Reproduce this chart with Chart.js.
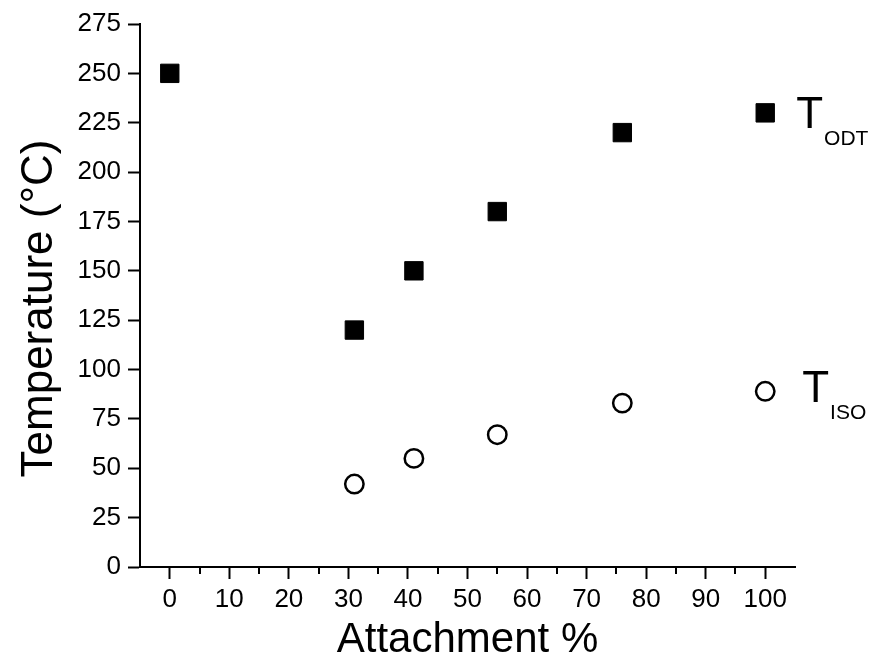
<!DOCTYPE html>
<html>
<head>
<meta charset="utf-8">
<script src="https://cdn.jsdelivr.net/npm/chart.js@4"></script>
<style>
  html, body { margin: 0; padding: 0; background: #fff; }
  #wrap { width: 875px; height: 661px; }
</style>
</head>
<body>
<div id="wrap"><canvas id="chartTemp"></canvas></div>
<script>
// data
const attachODT = [0, 31, 41, 55, 76, 100]
const tempODT = [250, 120, 150, 180, 220, 230]
const attachISO = [31, 41, 55, 76, 100]
const tempISO = [42, 55, 67, 83, 89]

const seriesNames = ['T', 'T']
const seriesSubs = ['ODT', 'ISO']

const xTicks = [0, 10, 20, 30, 40, 50, 60, 70, 80, 90, 100]
const xMinorTicks = [5, 15, 25, 35, 45, 55, 65, 75, 85, 95]
const yTicks = [0, 25, 50, 75, 100, 125, 150, 175, 200, 225, 250, 275]
const yTitle = 'Temperature (°C)'

const FONT = 'Arial, "Liberation Sans", sans-serif'

function toPoints(xs, ys) {
  const pts = []
  for (var i = 0; i < xs.length; i++) {
    pts.push({x: xs[i], y: ys[i]})
  }
  return pts
}

// short ticks between the labelled ones on the x axis
const minorTicks = {
  id: 'minorTicks',
  afterDraw(chart) {
    const ctx = chart.ctx
    const xs = chart.scales.x
    ctx.save()
    ctx.strokeStyle = '#000'
    ctx.lineWidth = 2
    xMinorTicks.forEach(v => {
      const px = Math.round(xs.getPixelForValue(v))
      ctx.beginPath()
      ctx.moveTo(px, xs.top)
      ctx.lineTo(px, xs.top + 7)
      ctx.stroke()
    })
    ctx.restore()
  }
}

// y title drawn by hand, it sits a bit below the middle of the axis
const yTitleDraw = {
  id: 'yTitleDraw',
  afterDraw(chart) {
    const ctx = chart.ctx
    const area = chart.chartArea
    ctx.save()
    ctx.translate(52, (area.top + area.bottom) / 2 + 13)
    ctx.rotate(-Math.PI / 2)
    ctx.fillStyle = '#000'
    ctx.font = '44px ' + FONT
    ctx.textAlign = 'center'
    ctx.textBaseline = 'alphabetic'
    ctx.fillText(yTitle, 0, 0)
    ctx.restore()
  }
}

// "T" with subscript next to the last point of each series
const seriesTags = {
  id: 'seriesTags',
  afterDatasetsDraw(chart) {
    const ctx = chart.ctx
    const offsets = [[31, 15], [37, 11]]
    ctx.save()
    ctx.fillStyle = '#000'
    ctx.textBaseline = 'alphabetic'
    chart.data.datasets.forEach((ds, i) => {
      const meta = chart.getDatasetMeta(i)
      const last = meta.data[meta.data.length - 1]
      const x = last.x + offsets[i][0]
      const y = last.y + offsets[i][1]
      ctx.font = '44px ' + FONT
      ctx.fillText(seriesNames[i], x, y)
      const w = ctx.measureText(seriesNames[i]).width
      ctx.font = '21px ' + FONT
      ctx.fillText(seriesSubs[i], x + w + 1, y + 17)
    })
    ctx.restore()
  }
}

const axisStyle = {
  grid: {drawOnChartArea: false, drawTicks: true, tickLength: 12, tickWidth: 2, tickColor: '#000'},
  border: {display: true, color: '#000', width: 2}
}

new Chart(document.getElementById('chartTemp'), {
  type: 'scatter',
  data: {
    datasets: [{
      label: 'T ODT',
      data: toPoints(attachODT, tempODT),
      pointStyle: 'rect',
      pointRadius: 13,
      backgroundColor: '#000',
      borderColor: '#000',
      borderWidth: 1
    }, {
      label: 'T ISO',
      data: toPoints(attachISO, tempISO),
      pointStyle: 'circle',
      pointRadius: 9.2,
      backgroundColor: '#fff',
      borderColor: '#000',
      borderWidth: 2.5
    }]
  },
  options: {
    responsive: true,
    maintainAspectRatio: false,
    animation: false,
    layout: {padding: {top: 24, right: 80, left: 0, bottom: 0}},
    plugins: {
      legend: {display: false},
      tooltip: {enabled: false}
    },
    scales: {
      x: {
        type: 'linear',
        min: -5,
        max: 105,
        afterBuildTicks: s => { s.ticks = xTicks.map(v => ({value: v})) },
        afterFit: s => { s.height = 94 },
        ticks: {color: '#000', font: {family: FONT, size: 26}, padding: 5, maxRotation: 0},
        title: {display: true, text: 'Attachment %', color: '#000', font: {family: FONT, size: 42, lineHeight: 1}, padding: {top: 0, bottom: 0}},
        ...axisStyle
      },
      y: {
        type: 'linear',
        min: 0,
        max: 275,
        afterBuildTicks: s => { s.ticks = yTicks.map(v => ({value: v})) },
        afterFit: s => { s.width = 140 },
        ticks: {color: '#000', font: {family: FONT, size: 26}, padding: 7},
        title: {display: false},
        ...axisStyle
      }
    }
  },
  plugins: [minorTicks, yTitleDraw, seriesTags]
})
</script>
</body>
</html>
